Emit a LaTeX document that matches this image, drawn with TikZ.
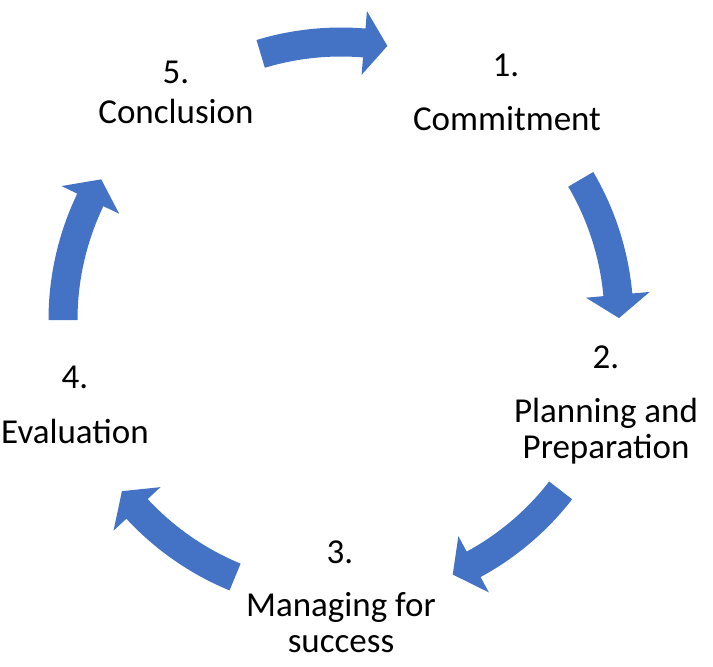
\documentclass[tikz,border=0pt]{standalone}
\usepackage{fontspec}
\setmainfont{Carlito}
\usepackage{xcolor}
\usepackage{tikz}
\definecolor{cblue}{HTML}{4472C4}

\begin{document}
\begin{tikzpicture}[x=1pt,y=1pt,
    steptext/.style={font=\fontsize{35}{36}\selectfont,align=center,anchor=base,inner sep=0pt},
    cyclearrow/.style={fill=cblue}]

      \useasboundingbox (0,0) rectangle (713,-667);

      % curved arrows round the cycle (tail angle / head angle)
      \foreach \a/\b in {106.8/85.2, 30.4/5.2, -37.8/-61.5, -112.4/-137.2, 180/154.4}{
        \fill[cyclearrow,shift={(341,-320)}]
          (\a:292.5) arc[start angle=\a,end angle=\b,radius=292.5]
          -- (\b:310) -- ({\b-4.8}:278) -- (\b:246)
          -- (\b:263.5) arc[start angle=\b,end angle=\a,radius=263.5] -- cycle;
      }

      % step 1
      \node[steptext] (n1) at (506,-76) {1.};
      \node[steptext] (t1) at (507,-130) {Commitment};

      % step 2 (base = last line)
      \node[steptext] (n2) at (606,-368) {2.};
      \node[steptext] (t2) at (606,-458) {Planning and\\Preparation};

      % step 3
      \node[steptext] (n3) at (340,-563) {3.};
      \node[steptext] (t3) at (341,-652) {Managing for\\success};

      % step 4
      \node[steptext] (n4) at (75,-388) {4.};
      \node[steptext] (t4) at (75,-443) {Evaluation};

      % step 5
      \node[steptext] (n5) at (176,-83) {5.};
      \node[steptext] (t5) at (176,-123) {Conclusion};

\end{tikzpicture}
\end{document}
